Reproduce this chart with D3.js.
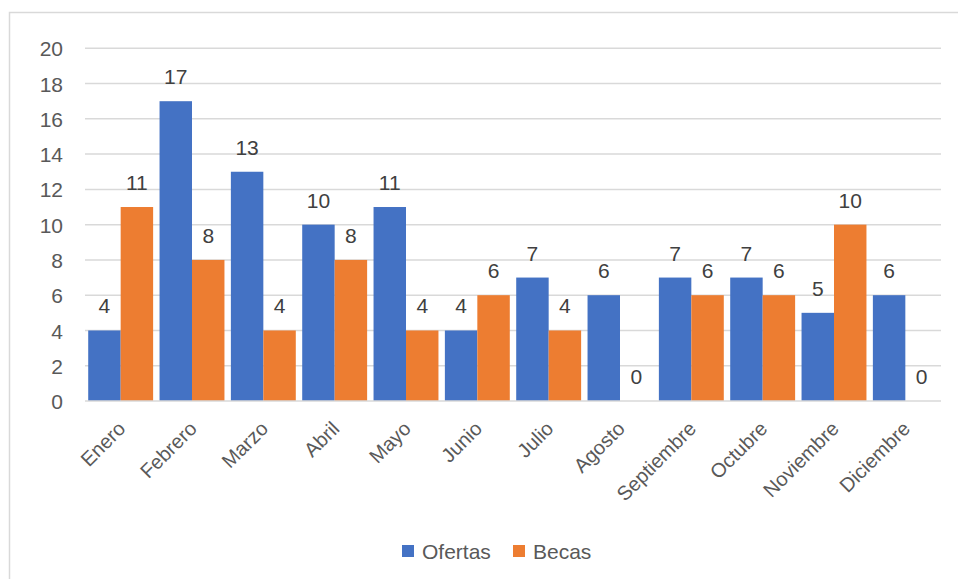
<!DOCTYPE html>
<html><head><meta charset="utf-8">
<script src="https://cdn.jsdelivr.net/npm/d3@7"></script>
<style>body{margin:0;background:#fff}svg{display:block}text{font-family:"Liberation Sans",Arial,sans-serif}</style>
</head><body><svg id="c" width="958" height="579"></svg>
<script>
(function(){
const categories = ["Enero","Febrero","Marzo","Abril","Mayo","Junio","Julio","Agosto","Septiembre","Octubre","Noviembre","Diciembre"];
const ofertas = [4,17,13,10,11,4,7,6,7,7,5,6];
const becas = [11,8,4,8,4,6,4,0,6,6,10,0];
const seriesNames = ["Ofertas","Becas"];
const colors = ["#4472C4","#ED7D31"];
const yTicks = [0,2,4,6,8,10,12,14,16,18,20];

const svg = d3.select("#c");
svg.append("rect").attr("x",9.5).attr("y",12.5).attr("width",960).attr("height",580)
  .attr("fill","#fff").attr("stroke","#d9d9d9").attr("stroke-width",1.5);

const pLeft=85,pRight=941,pTop=48.3,pBottom=401;
const x = d3.scaleBand().domain(categories).range([pLeft,pRight]).paddingInner(0.09).paddingOuter(0.045);
const xs = d3.scaleBand().domain(seriesNames).range([0,x.bandwidth()]);
const y = d3.scaleLinear().domain([0,20]).range([pBottom,pTop]);

const g = svg.append("g");
g.selectAll("line.grid").data(yTicks.filter(d=>d>0)).join("line")
  .attr("x1",pLeft).attr("x2",pRight).attr("y1",d=>y(d)).attr("y2",d=>y(d))
  .attr("stroke","#d9d9d9").attr("stroke-width",1.5);

const yAxis = d3.axisLeft(y).tickValues(yTicks).tickSize(0).tickPadding(22);
const ya = svg.append("g").attr("transform",`translate(${pLeft},0)`).call(yAxis);
ya.select(".domain").remove();
ya.selectAll("text").attr("fill","#595959").style("font-size","21px").attr("dy","0.36em");

const data = [ofertas,becas];
data.forEach((vals,si)=>{
  const gg = svg.append("g");
  gg.selectAll("rect").data(vals).join("rect")
    .attr("x",(d,i)=>x(categories[i])+xs(seriesNames[si]))
    .attr("width",xs.bandwidth())
    .attr("y",d=>y(d)).attr("height",d=>y(0)-y(d))
    .attr("fill",colors[si]);
  gg.selectAll("text").data(vals).join("text")
    .attr("x",(d,i)=>x(categories[i])+xs(seriesNames[si])+xs.bandwidth()/2)
    .attr("y",d=>y(d)-17)
    .attr("text-anchor","middle").attr("fill","#404040").style("font-size","21px")
    .text(d=>d);
});

svg.append("line").attr("x1",pLeft).attr("x2",pRight).attr("y1",y(0)).attr("y2",y(0))
  .attr("stroke","#d9d9d9").attr("stroke-width",1.5);

const xAxis = d3.axisBottom(x).tickSize(0).tickPadding(0);
const xa = svg.append("g").attr("transform",`translate(0,${pBottom})`).call(xAxis);
xa.select(".domain").remove();
xa.selectAll("text").attr("fill","#595959").style("font-size","20px")
  .attr("text-anchor","end").attr("dy",0).attr("y",0)
  .attr("transform","translate(6,29) rotate(-45)");

const leg = svg.append("g");
const legItems = [{n:"Ofertas",c:colors[0],x:402},{n:"Becas",c:colors[1],x:513}];
legItems.forEach(it=>{
  leg.append("rect").attr("x",it.x).attr("y",545).attr("width",12).attr("height",12).attr("fill",it.c);
  leg.append("text").attr("x",it.x+20).attr("y",551).attr("dy","0.36em").attr("fill","#595959")
    .style("font-size","21px").text(it.n);
});
})();
</script></body></html>
